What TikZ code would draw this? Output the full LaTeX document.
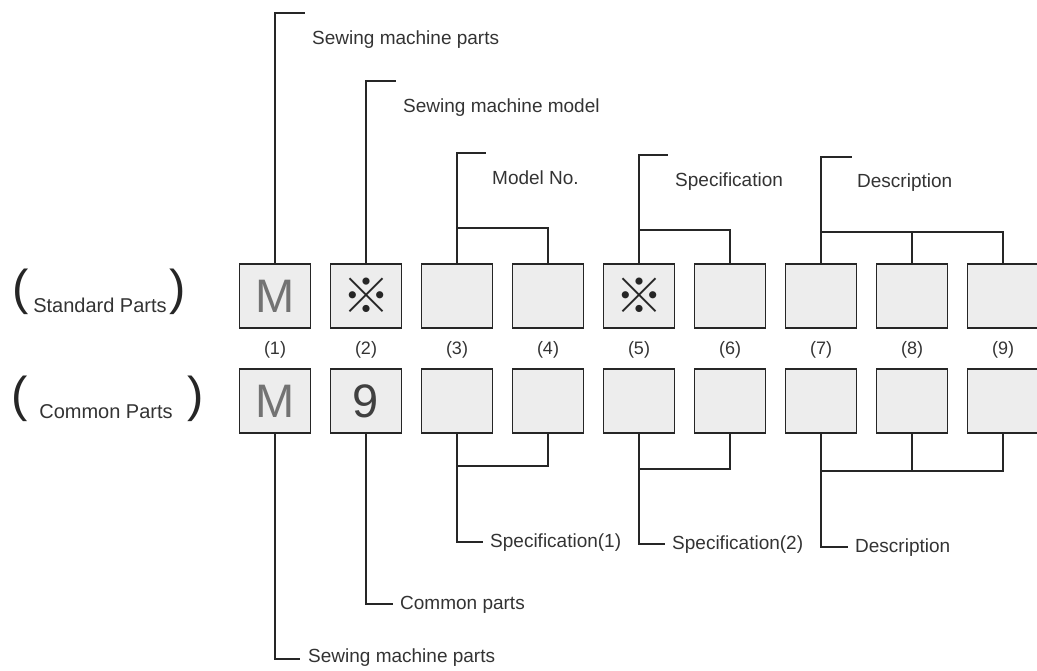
\documentclass[tikz,border=0pt]{standalone}
\usepackage{fontspec}
\setmainfont{Liberation Sans}
\newfontfamily\cjk{Noto Sans CJK JP}
\usetikzlibrary{positioning}

\tikzset{
  part/.style={draw=black!85,fill=black!7,line width=1.3pt,minimum width=71pt,minimum height=64pt,inner sep=0pt},
  lbl/.style={anchor=west,inner sep=0pt,text=black!80,font=\fontsize{19}{19}\selectfont},
  idx/.style={inner sep=0pt,text=black!80,font=\fontsize{18}{18}\selectfont},
  lead/.style={line width=1.1pt,draw=black!85},
  bigletter/.style={inner sep=0pt,text=black!55,font=\fontsize{47}{47}\selectfont},
  refmark/.style={inner sep=0pt,text=black!85,font=\cjk\fontsize{48}{48}\selectfont},
  paren/.style={inner sep=0pt,text=black!85,font=\fontsize{49}{49}\selectfont},
}

\begin{document}
\begin{tikzpicture}[x=1pt,y=-1pt]
  \useasboundingbox (0,0) rectangle (1037,670);

  % the two rows of code boxes
  \foreach \i in {1,...,9}{
    \node[part] (t\i) at ({275+91*(\i-1)},296) {};
    \node[idx]  (n\i) at ({275+91*(\i-1)},350) {(\i)};
    \node[part] (b\i) at ({275+91*(\i-1)},401) {};
  }
  \node[bigletter] (t1m) at (t1) {M};
  \node[refmark]   (t2m) at (t2) {※};
  \node[refmark]   (t5m) at (t5) {※};
  \node[bigletter] (b1m) at (b1) {M};
  \node[bigletter,text=black!75] (b2m) at (b2) {9};

  % row titles
  \node[paren] (sl) at (21,292) {(};
  \node[lbl,anchor=center,font=\fontsize{20}{20}\selectfont] (std) at (100,305) {Standard Parts};
  \node[paren] (sr) at (178,292) {)};
  \node[paren] (cl) at (20,399) {(};
  \node[lbl,anchor=center,font=\fontsize{20}{20}\selectfont] (com) at (106,412) {Common Parts};
  \node[paren] (cr) at (196,399) {)};

  % upper leaders
  \coordinate (e1) at (305,13);
  \coordinate (e2) at (396,81);
  \coordinate (e3) at (486,153);
  \coordinate (e5) at (668,155);
  \coordinate (e7) at (852,157);
  \node[lbl] (l1) at (312,40)  {Sewing machine parts};
  \node[lbl] (l2) at (403,108) {Sewing machine model};
  \node[lbl] (l3) at (492,178) {Model No.};
  \node[lbl] (l5) at (675,182) {Specification};
  \node[lbl] (l7) at (857,183) {Description};
  \coordinate (j3) at (457,228);
  \coordinate (j5) at (639,230);
  \coordinate (j7) at (821,232);

  \draw[lead] (t1.north) |- (e1);
  \draw[lead] (t2.north) |- (e2);
  \draw[lead] (t3.north) |- (e3);
  \draw[lead] (t4.north) |- (j3);
  \draw[lead] (t5.north) |- (e5);
  \draw[lead] (t6.north) |- (j5);
  \draw[lead] (t7.north) |- (e7);
  \draw[lead] (t8.north) |- (j7);
  \draw[lead] (t9.north) |- (j7);

  % lower leaders
  \coordinate (f1) at (300,659);
  \coordinate (f2) at (393,604);
  \coordinate (f3) at (483,542);
  \coordinate (f5) at (665,544);
  \coordinate (f7) at (848,547);
  \node[lbl] (m1) at (308,658) {Sewing machine parts};
  \node[lbl] (m2) at (400,605) {Common parts};
  \node[lbl] (m3) at (490,543) {Specification(1)};
  \node[lbl] (m5) at (672,545) {Specification(2)};
  \node[lbl] (m7) at (855,548) {Description};
  \coordinate (k3) at (457,466);
  \coordinate (k5) at (639,469);
  \coordinate (k7) at (821,471);

  \draw[lead] (b1.south) |- (f1);
  \draw[lead] (b2.south) |- (f2);
  \draw[lead] (b3.south) |- (f3);
  \draw[lead] (b4.south) |- (k3);
  \draw[lead] (b5.south) |- (f5);
  \draw[lead] (b6.south) |- (k5);
  \draw[lead] (b7.south) |- (f7);
  \draw[lead] (b8.south) |- (k7);
  \draw[lead] (b9.south) |- (k7);
\end{tikzpicture}
\end{document}
